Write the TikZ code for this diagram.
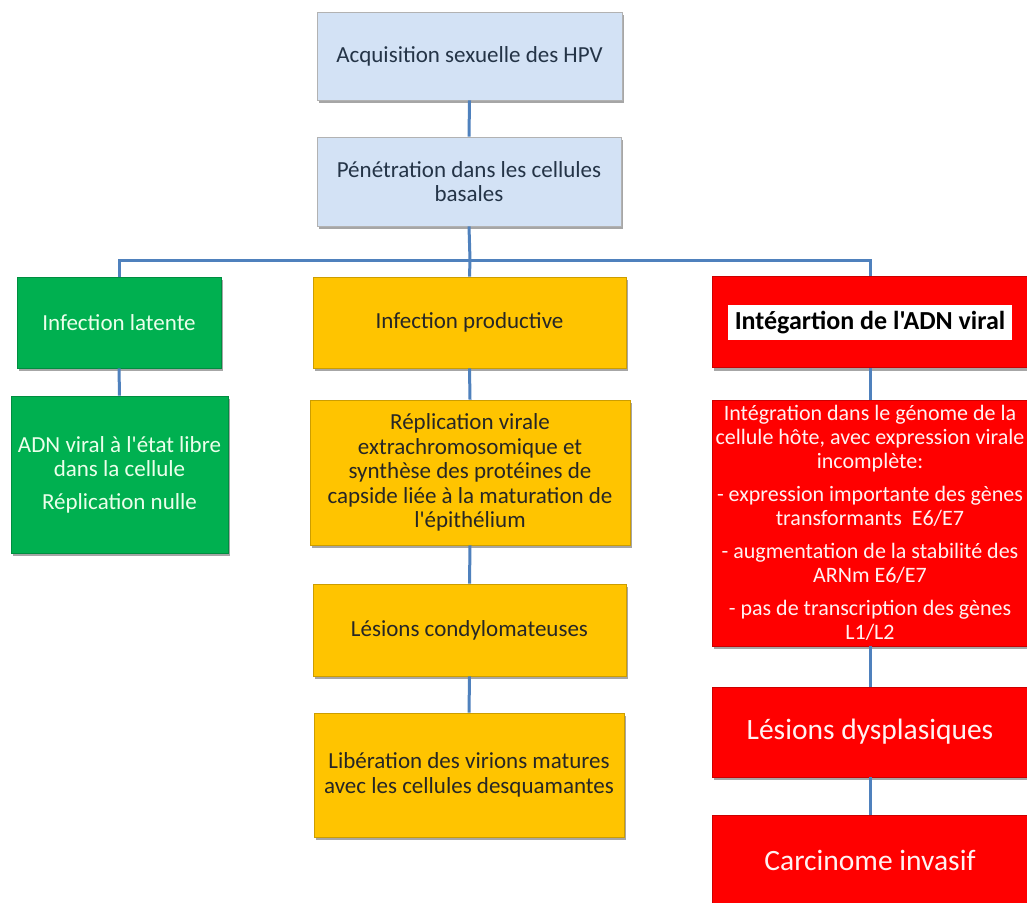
\documentclass[tikz,border=0pt]{standalone}
\usepackage{fontspec}
\setmainfont{Carlito}[Ligatures=TeXOff]
\usetikzlibrary{shadows}
\definecolor{boxblue}{HTML}{D3E2F5}
\definecolor{boxgreen}{HTML}{00B050}
\definecolor{boxyellow}{HTML}{FFC400}
\definecolor{boxred}{HTML}{FF0000}
\definecolor{linkblue}{HTML}{4F81BD}
\definecolor{bluetext}{HTML}{243447}
\tikzset{
  card/.style={rectangle, inner sep=0pt, align=center,
    font=\fontsize{23}{24.5}\selectfont,
    drop shadow={shadow xshift=2pt, shadow yshift=-3pt, fill=black, opacity=0.35}},
  bluecard/.style={card, fill=boxblue, draw=black!30, line width=0.8pt, text=bluetext},
  greencard/.style={card, fill=boxgreen, draw=boxgreen!80!black, line width=0.6pt, text=white!92!green},
  yellowcard/.style={card, fill=boxyellow, draw=boxyellow!80!black, line width=0.6pt, text=black!85},
  redcard/.style={card, fill=boxred, draw=boxred!80!black, line width=0.6pt, text=white!95!red},
  bigtext/.style={font=\fontsize{29.5}{32}\selectfont},
  link/.style={draw=linkblue, line width=3pt}
}
\begin{document}
\begin{tikzpicture}[x=1pt, y=-1pt]
  \clip (0,0) rectangle (1027,902);
  \fill[white] (0,0) rectangle (1027,902);

  % top of the tree
  \node[bluecard, minimum width=305pt, minimum height=88pt] (A) at (469.5,56) {Acquisition sexuelle des HPV};
  \node[bluecard, minimum width=304pt, minimum height=89pt] (B) at (469,181.5) {Pénétration dans les cellules\\basales};

  % left branch
  \node[greencard, minimum width=204pt, minimum height=91pt] (L1) at (119,322.5) {Infection latente};
  \node[greencard, minimum width=217pt, minimum height=157pt] (L2) at (119.5,474.5) {ADN viral à l'état libre\\dans la cellule\\[8pt]Réplication nulle};

  % middle branch
  \node[yellowcard, minimum width=313pt, minimum height=91pt] (M1) at (469.5,322.5) {Infection productive};
  \node[yellowcard, minimum width=320pt, minimum height=145pt] (M2) at (470,472.5) {Réplication virale\\extrachromosomique et\\synthèse des protéines de\\capside liée à la maturation de\\l'épithélium};
  \node[yellowcard, minimum width=313pt, minimum height=92pt] (M3) at (469.5,630) {Lésions condylomateuses};
  \node[yellowcard, minimum width=310pt, minimum height=124pt] (M4) at (469,775) {Libération des virions matures\\avec les cellules desquamantes};

  % right branch
  \node[redcard, minimum width=316pt, minimum height=91pt] (R1) at (870,322)
    {\setlength{\fboxsep}{2pt}\colorbox{white}{\textcolor{black}{\fontsize{26}{28}\selectfont\bfseries\rule[-8pt]{0pt}{31pt}\,Intégartion de l'ADN viral\,}}};
  \node[redcard, font=\fontsize{22}{24}\selectfont, minimum width=316pt, minimum height=246pt] (R2) at (870,523)
    {Intégration dans le génome de la\\cellule hôte, avec expression virale\\incomplète:\\[9pt]- expression importante des gènes\\transformants\ \ E6/E7\\[9pt]- augmentation de la stabilité des\\ARNm E6/E7\\[9pt]- pas de transcription des gènes\\L1/L2};
  \node[redcard, bigtext, minimum width=316pt, minimum height=90pt] (R3) at (870,732) {Lésions dysplasiques};
  \node[redcard, bigtext, minimum width=316pt, minimum height=90pt] (R4) at (870,860) {Carcinome invasif};

  % connectors
  \coordinate (J) at (470,260);
  \draw[link] (A.south) -- (B.north);
  \draw[link] (B.south) -- (J);
  \draw[link] (J) -| (L1.north);
  \draw[link] (J) -| (R1.north);
  \draw[link] (J) -- (M1.north);
  \draw[link] (L1.south) -- (L2.north);
  \draw[link] (M1.south) -- (M2.north);
  \draw[link] (M2.south) -- (M3.north);
  \draw[link] (M3.south) -- (M4.north);
  \draw[link] (R1.south) -- (R2.north);
  \draw[link] (R2.south) -- (R3.north);
  \draw[link] (R3.south) -- (R4.north);
\end{tikzpicture}
\end{document}
